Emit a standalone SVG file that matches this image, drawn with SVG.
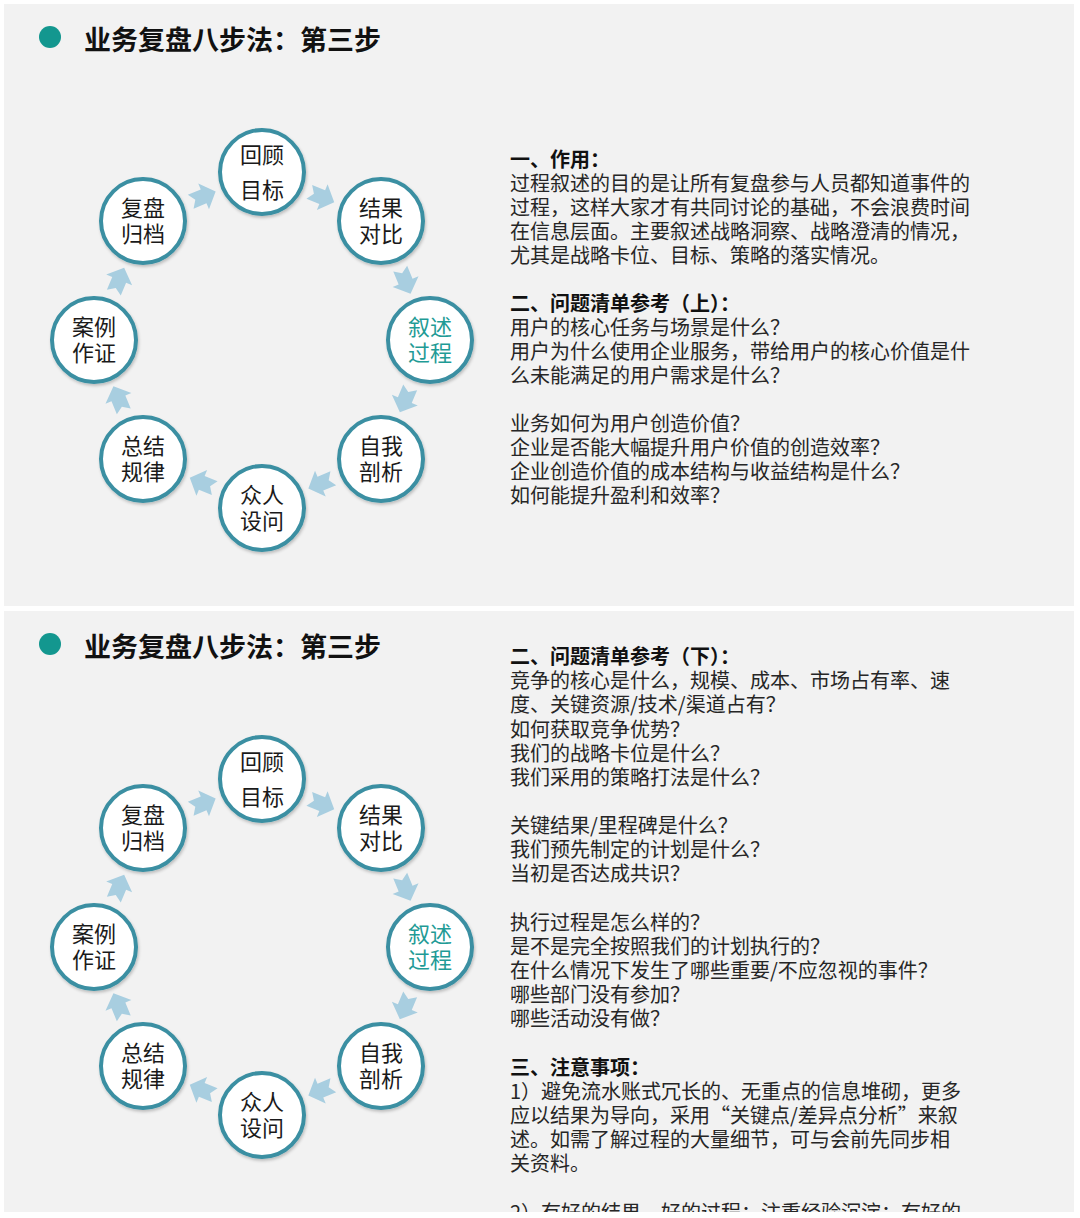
<svg xmlns="http://www.w3.org/2000/svg" xmlns:xlink="http://www.w3.org/1999/xlink" width="1080" height="1218" viewBox="0 0 1080 1218">
<defs>
<style>
.panel{fill:#f2f2f2}
.dot{fill:#13978f}
.title{font-family:"Noto Sans CJK SC","Noto Sans",sans-serif;font-size:27px;font-weight:700;fill:#111}
.node circle{fill:#fff;stroke:#3a8fa2;stroke-width:4;filter:url(#sh)}
.node text{font-family:"Noto Sans CJK SC","Noto Sans",sans-serif;font-size:22px;fill:#1a1a1a;text-anchor:middle}
.node text.hl{fill:#1f9b96}
.arr{fill:#a8cee0}
.body{font-family:"Noto Sans CJK SC","Noto Sans",sans-serif;font-size:20px;fill:#262626}
.body .h{font-weight:700;fill:#111}
</style>
<filter id="sh" x="-20%" y="-20%" width="140%" height="140%">
<feDropShadow dx="1" dy="2" stdDeviation="1.5" flood-color="#000" flood-opacity="0.22"/>
</filter>
<path id="arrow" class="arr" d="M-13,-7.5 L1,-7.5 L1,-14 L14,0 L1,14 L1,7.5 L-13,7.5 L-8,0 Z"/>
<clipPath id="clipB"><rect x="4" y="611" width="1070" height="601"/></clipPath>
<g id="cycle">
<g class="connectors" id="connectors">
<use href="#arrow" transform="translate(202.7,196.8) rotate(-22.5)"/>
<use href="#arrow" transform="translate(321.3,196.8) rotate(22.5)"/>
<use href="#arrow" transform="translate(405.2,280.7) rotate(67.5)"/>
<use href="#arrow" transform="translate(405.2,399.3) rotate(112.5)"/>
<use href="#arrow" transform="translate(321.3,483.2) rotate(157.5)"/>
<use href="#arrow" transform="translate(202.7,483.2) rotate(202.5)"/>
<use href="#arrow" transform="translate(118.8,399.3) rotate(247.5)"/>
<use href="#arrow" transform="translate(118.8,280.7) rotate(292.5)"/>
</g>
<g class="node" id="n-huigu"><circle cx="262" cy="172" r="42"/><text x="262" y="163">回顾<tspan x="262" y="198">目标</tspan></text></g>
<g class="node" id="n-jieguo"><circle cx="381" cy="221" r="42"/><text x="381" y="216">结果<tspan x="381" y="242">对比</tspan></text></g>
<g class="node" id="n-xushu"><circle cx="430" cy="340" r="42"/><text class="hl" x="430" y="335">叙述<tspan x="430" y="361">过程</tspan></text></g>
<g class="node" id="n-ziwo"><circle cx="381" cy="459" r="42"/><text x="381" y="454">自我<tspan x="381" y="480">剖析</tspan></text></g>
<g class="node" id="n-zhongren"><circle cx="262" cy="508" r="42"/><text x="262" y="503">众人<tspan x="262" y="529">设问</tspan></text></g>
<g class="node" id="n-zongjie"><circle cx="143" cy="459" r="42"/><text x="143" y="454">总结<tspan x="143" y="480">规律</tspan></text></g>
<g class="node" id="n-anli"><circle cx="94" cy="340" r="42"/><text x="94" y="335">案例<tspan x="94" y="361">作证</tspan></text></g>
<g class="node" id="n-fupan"><circle cx="143" cy="221" r="42"/><text x="143" y="216">复盘<tspan x="143" y="242">归档</tspan></text></g>
</g>
</defs>
<rect width="1080" height="1218" fill="#fff"/>

<g id="panel-top">
<rect class="panel" x="4" y="4" width="1070" height="602"/>
<circle class="dot" cx="50" cy="37" r="11"/>
<text class="title" x="84" y="50">业务复盘八步法：第三步</text>
<use href="#cycle"/>
<text class="body" x="510" y="167"><tspan class="h" x="510" y="167">一、作用：</tspan><tspan x="510" y="191">过程叙述的目的是让所有复盘参与人员都知道事件的</tspan><tspan x="510" y="215">过程，这样大家才有共同讨论的基础，不会浪费时间</tspan><tspan x="510" y="239">在信息层面。主要叙述战略洞察、战略澄清的情况，</tspan><tspan x="510" y="263">尤其是战略卡位、目标、策略的落实情况。</tspan><tspan class="h" x="510" y="311">二、问题清单参考（上）：</tspan><tspan x="510" y="335">用户的核心任务与场景是什么？</tspan><tspan x="510" y="359">用户为什么使用企业服务，带给用户的核心价值是什</tspan><tspan x="510" y="383">么未能满足的用户需求是什么？</tspan><tspan x="510" y="431">业务如何为用户创造价值？</tspan><tspan x="510" y="455">企业是否能大幅提升用户价值的创造效率？</tspan><tspan x="510" y="479">企业创造价值的成本结构与收益结构是什么？</tspan><tspan x="510" y="503">如何能提升盈利和效率？</tspan></text>
</g>

<g id="panel-bottom" clip-path="url(#clipB)">
<rect class="panel" x="4" y="611" width="1070" height="601"/>
<circle class="dot" cx="50" cy="644" r="11"/>
<text class="title" x="84" y="657">业务复盘八步法：第三步</text>
<use href="#cycle" transform="translate(0,607)"/>
<text class="body" x="510" y="664"><tspan class="h" x="510" y="664">二、问题清单参考（下）：</tspan><tspan x="510" y="688.2">竞争的核心是什么，规模、成本、市场占有率、速</tspan><tspan x="510" y="712.3">度、关键资源/技术/渠道占有？</tspan><tspan x="510" y="736.5">如何获取竞争优势？</tspan><tspan x="510" y="760.6">我们的战略卡位是什么？</tspan><tspan x="510" y="784.8">我们采用的策略打法是什么？</tspan><tspan x="510" y="833">关键结果/里程碑是什么？</tspan><tspan x="510" y="857.2">我们预先制定的计划是什么？</tspan><tspan x="510" y="881.4">当初是否达成共识？</tspan><tspan x="510" y="929.7">执行过程是怎么样的？</tspan><tspan x="510" y="953.8">是不是完全按照我们的计划执行的？</tspan><tspan x="510" y="978">在什么情况下发生了哪些重要/不应忽视的事件？</tspan><tspan x="510" y="1002.1">哪些部门没有参加？</tspan><tspan x="510" y="1026.3">哪些活动没有做？</tspan><tspan class="h" x="510" y="1074.6">三、注意事项：</tspan><tspan x="510" y="1098.7">1）避免流水账式冗长的、无重点的信息堆砌，更多</tspan><tspan x="510" y="1122.9">应以结果为导向，采用“关键点/差异点分析”来叙</tspan><tspan x="510" y="1147">述。如需了解过程的大量细节，可与会前先同步相</tspan><tspan x="510" y="1171.2">关资料。</tspan><tspan x="510" y="1219.5">2）有好的结果，好的过程：注重经验沉淀；有好的</tspan></text>
</g>
</svg>
